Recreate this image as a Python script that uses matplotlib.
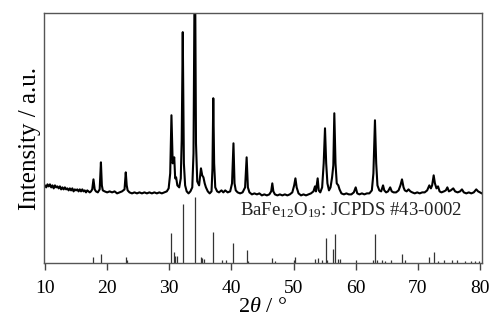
import matplotlib
matplotlib.use("Agg")
import matplotlib.pyplot as plt

plt.rcParams['font.family'] = ['Liberation Serif', 'DejaVu Serif']
plt.rcParams['mathtext.fontset'] = 'custom'
plt.rcParams['mathtext.rm'] = 'Liberation Serif'
plt.rcParams['mathtext.it'] = 'Liberation Serif:italic'

pattern_points = [
    (9.8, 77), (10.0, 78), (10.2, 76), (10.4, 79), (10.6, 77), (10.8, 79), (11.0, 76), (11.2, 78),
    (11.4, 75), (11.6, 78), (11.8, 76), (12.0, 77), (12.2, 75), (12.4, 77), (12.6, 74),
    (12.8, 76), (13.0, 74), (13.2, 76), (13.4, 74), (13.6, 75), (13.8, 73), (14.0, 75),
    (14.2, 73), (14.4, 75), (14.6, 72), (14.8, 74), (15.0, 73), (15.2, 74), (15.4, 72),
    (15.6, 74), (15.8, 72), (16.0, 74), (16.2, 72), (16.4, 73), (16.6, 71), (16.8, 73),
    (17.0, 72), (17.2, 71), (17.4, 72), (17.6, 74), (17.8, 84), (18.0, 74), (18.2, 72),
    (18.5, 71), (18.8, 74), (19.0, 101), (19.15, 78), (19.3, 73), (19.6, 72), (20.0, 71),
    (20.4, 72), (20.8, 71), (21.2, 72), (21.6, 70), (22.0, 71), (22.4, 72), (22.8, 74),
    (23.0, 91), (23.15, 78), (23.3, 73), (23.6, 71), (24.0, 70), (24.4, 71), (24.8, 70),
    (25.2, 71), (25.6, 70), (26.0, 71), (26.4, 70), (26.8, 71), (27.2, 70), (27.6, 71),
    (28.0, 70), (28.4, 71), (28.8, 70), (29.2, 71), (29.6, 72), (29.9, 75), (30.15, 90),
    (30.35, 148), (30.55, 100), (30.8, 106), (30.95, 85), (31.1, 86), (31.3, 78), (31.6, 76),
    (31.85, 85), (32.0, 123), (32.17, 231), (32.35, 100), (32.55, 78), (32.8, 72), (33.1, 70),
    (33.4, 72), (33.7, 76), (33.9, 110), (34.12, 330), (34.3, 120), (34.5, 82), (34.8, 78),
    (35.1, 95), (35.3, 88), (35.5, 86), (35.7, 80), (35.9, 76), (36.2, 72), (36.5, 70),
    (36.8, 72), (36.95, 95), (37.08, 165), (37.22, 100), (37.4, 76), (37.7, 72), (38.0, 71),
    (38.4, 73), (38.7, 71), (39.0, 73), (39.4, 71), (39.8, 72), (40.1, 80), (40.33, 120),
    (40.5, 80), (40.7, 73), (41.0, 71), (41.4, 70), (41.8, 71), (42.2, 76), (42.45, 106),
    (42.65, 76), (42.9, 71), (43.3, 69), (43.7, 70), (44.1, 69), (44.5, 70), (44.9, 68),
    (45.3, 69), (45.7, 68), (46.1, 69), (46.4, 72), (46.58, 80), (46.75, 72), (47.0, 69),
    (47.4, 68), (47.8, 69), (48.2, 68), (48.6, 69), (49.0, 68), (49.4, 69), (49.8, 71),
    (50.1, 78), (50.3, 85), (50.5, 76), (50.8, 70), (51.2, 68), (51.6, 69), (52.0, 68),
    (52.4, 69), (52.8, 70), (53.2, 72), (53.45, 77), (53.6, 72), (53.88, 85), (54.05, 73),
    (54.3, 71), (54.6, 76), (54.85, 100), (55.06, 135), (55.25, 100), (55.45, 80), (55.7, 73),
    (55.95, 76), (56.2, 86), (56.4, 98), (56.56, 150), (56.75, 100), (56.95, 80), (57.2, 78),
    (57.4, 74), (57.7, 70), (58.1, 69), (58.5, 70), (58.9, 69), (59.3, 69), (59.7, 71),
    (60.0, 76), (60.25, 70), (60.6, 69), (61.0, 70), (61.4, 69), (61.8, 70), (62.2, 70),
    (62.6, 73), (62.85, 90), (63.1, 143), (63.3, 100), (63.5, 78), (63.8, 73), (64.1, 72),
    (64.4, 78), (64.6, 73), (64.9, 71), (65.2, 72), (65.55, 76), (65.8, 72), (66.1, 71),
    (66.5, 71), (66.9, 73), (67.2, 78), (67.45, 84), (67.7, 76), (67.9, 73), (68.2, 72),
    (68.5, 74), (68.8, 72), (69.1, 71), (69.5, 70), (69.9, 71), (70.3, 70), (70.7, 71),
    (71.1, 71), (71.5, 73), (71.85, 78), (72.1, 75), (72.3, 78), (72.55, 88), (72.75, 80),
    (73.0, 75), (73.25, 77), (73.5, 72), (73.8, 71), (74.2, 72), (74.5, 73), (74.75, 76),
    (75.0, 72), (75.3, 73), (75.7, 75), (76.0, 72), (76.4, 71), (76.8, 72), (77.1, 74),
    (77.4, 71), (77.8, 70), (78.2, 71), (78.6, 70), (79.0, 71), (79.4, 74), (79.7, 72),
    (80.0, 71), (80.3, 70),
]
obs_2theta = [p[0] for p in pattern_points]
obs_intensity = [p[1] for p in pattern_points]

# Reference JCPDS #43-0002 stick pattern
ref_2theta = [17.78, 19.0, 23.0, 23.2, 30.35, 30.8, 30.97, 31.24, 32.16, 34.15, 35.05, 35.3,
              35.6, 37.08, 38.45, 39.2, 40.3, 42.46, 42.7, 46.6, 47.0, 50.0, 50.2, 53.45,
              53.95, 54.5, 55.15, 55.4, 56.4, 56.65, 57.1, 57.4, 60.05, 62.75, 63.1, 63.5,
              64.2, 64.7, 65.7, 67.4, 67.9, 71.85, 72.6, 73.2, 74.2, 75.5, 76.25, 77.6,
              78.6, 79.2, 79.8]
ref_intensity = [6, 9, 6, 3, 30, 11, 7, 7, 59, 66, 6, 5,
                 4, 31, 3, 3, 20, 13, 2, 5, 2, 3, 6, 4,
                 5, 3, 25, 3, 14, 29, 4, 4, 3, 3, 29, 3,
                 3, 2, 3, 9, 3, 6, 11, 2, 3, 3, 3, 2,
                 2, 2, 2]

fig = plt.figure(figsize=(4.91, 3.2), dpi=100)
ax = fig.add_axes([0.0886, 0.1766, 0.893, 0.7824])

ax.plot(obs_2theta, obs_intensity, color='black', lw=1.5, solid_joinstyle='round')
ax.vlines(ref_2theta, 0, ref_intensity, color='#333333', lw=0.9)

ax.text(41.4, 48, r'BaFe$_{12}$O$_{19}$: JCPDS #43-0002', fontsize=13.5,
        ha='left', va='baseline', color='#222222')

ax.set_xlim(9.76, 80.32)
ax.set_ylim(0, 250)
ax.set_xticks([10, 20, 30, 40, 50, 60, 70, 80])
ax.set_yticks([])
ax.tick_params(axis='x', direction='out', length=5, width=1, labelsize=14, pad=7,
               color='#444444')
for s in ax.spines.values():
    s.set_color('#555555')
    s.set_linewidth(1.0)

ax.set_xlabel(r'$\mathit{2\theta}$ / °', fontsize=16, labelpad=0.5)
ax.set_ylabel('Intensity / a.u.', fontsize=18, labelpad=2)

fig.savefig('out.png', dpi=100)
